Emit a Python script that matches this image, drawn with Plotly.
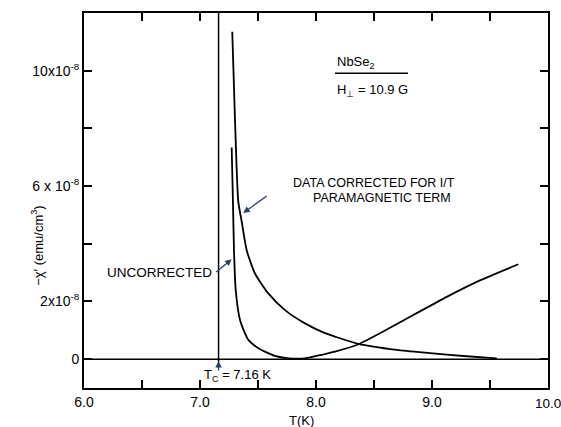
import plotly.graph_objects as go

# Temperature (K) and -chi' (in units of 1e-8 emu/cm^3)
T_uncorrected = [7.273, 7.284, 7.293, 7.308, 7.345, 7.416, 7.503, 7.647, 7.79, 7.905,
                 8.049, 8.164, 8.351, 8.552, 8.839, 9.127, 9.414, 9.744]
chi_uncorrected = [7.34, 5.47, 3.77, 2.39, 1.36, 0.67, 0.38, 0.11, 0.02, 0.03,
                   0.15, 0.26, 0.49, 0.90, 1.53, 2.16, 2.73, 3.29]

T_corrected = [7.278, 7.302, 7.330, 7.359, 7.403, 7.474, 7.589, 7.733, 7.905, 8.078,
               8.164, 8.365, 8.696, 8.983, 9.270, 9.558]
chi_corrected = [11.35, 8.26, 5.47, 4.78, 3.77, 2.97, 2.28, 1.70, 1.24, 0.90,
                 0.78, 0.53, 0.32, 0.21, 0.11, 0.03]

Tc = 7.16
x_tickvals = [6.0, 6.5, 7.0, 7.5, 8.0, 8.5, 9.0, 9.5, 10.0]
x_ticktext = ["6.0", "", "7.0", "", "8.0", "", "9.0", "", ""]
y_tickvals = [0, 2, 4, 6, 8, 10]
y_ticktext = ["0", "2x10<sup>-8</sup>", "", "6 x 10<sup>-8</sup>", "", "10x10<sup>-8</sup>"]

FONT = "Liberation Sans"
fig = go.Figure()
line = dict(color="black", width=1.8, shape="spline", smoothing=0.6)
fig.add_trace(go.Scatter(x=T_uncorrected, y=chi_uncorrected, mode="lines", line=line, showlegend=False))
fig.add_trace(go.Scatter(x=T_corrected, y=chi_corrected, mode="lines", line=line, showlegend=False))

# zero line and Tc line
fig.add_shape(type="line", x0=6, x1=10, y0=0, y1=0, line=dict(color="black", width=1.5))
fig.add_shape(type="line", x0=Tc, x1=Tc, y0=-0.1, y1=12, line=dict(color="black", width=1.5))
fig.add_shape(type="line", x0=8.164, x1=8.793, y0=9.91, y1=9.91, line=dict(color="black", width=1.5))

ann_font = dict(family=FONT, size=12.5, color="black")
f13 = dict(family=FONT, size=13, color="black")
anns = [
    dict(x=8.164, y=10.27, text="NbSe<sub>2</sub>", xanchor="left", showarrow=False, font=f13),
    dict(x=8.164, y=9.33, text="H<sub>⊥</sub> = 10.9 G", xanchor="left", showarrow=False, font=f13),
    dict(x=8.502, y=6.09, text="DATA CORRECTED FOR I/T", showarrow=False, font=ann_font),
    dict(x=8.566, y=5.60, text="PARAMAGNETIC TERM", showarrow=False, font=ann_font),
    dict(x=7.373, y=5.07, text="", ax=25, ay=-18, showarrow=True, arrowhead=2, arrowsize=1, arrowwidth=1.3),
    dict(x=6.654, y=3.0, text="UNCORRECTED", showarrow=False, font=dict(family=FONT, size=13.5, color="black")),
    dict(x=7.273, y=3.46, text="", ax=-17, ay=14, showarrow=True, arrowhead=2, arrowsize=1, arrowwidth=1.3),
    dict(x=7.319, y=-0.58, text="T<sub>C</sub> = 7.16 K", showarrow=False, font=f13),
    dict(x=Tc, y=-0.06, text="", ax=0, ay=11, showarrow=True, arrowhead=2, arrowsize=1, arrowwidth=1.3),
    dict(xref="paper", yref="paper", x=-0.123, y=0.379, text="−χ′ (emu/cm<sup>3</sup>)", textangle=-90,
         showarrow=False, font=f13),
    dict(xref="paper", yref="paper", x=0.468, y=-0.0875, yanchor="middle", text="T(K)", showarrow=False,
         font=f13),
    dict(x=10.0, xref="x", yref="paper", y=-0.041, yanchor="middle", text="10.0", showarrow=False,
         font=dict(family=FONT, size=13.5, color="black")),
]
for a in anns:
    fig.add_annotation(**a)

axis_common = dict(showline=True, linewidth=2, linecolor="black", mirror="ticks", ticks="inside",
                   ticklen=8, tickwidth=1.5, tickcolor="black", showgrid=False, zeroline=False,
                   tickfont=dict(family=FONT, size=14, color="black"))
fig.update_xaxes(range=[6, 10], tickmode="array", tickvals=x_tickvals, ticktext=x_ticktext, **axis_common)
fig.update_yaxes(range=[-1, 12], tickmode="array", tickvals=y_tickvals, ticktext=y_ticktext, **axis_common)

fig.update_layout(width=561, height=427, margin=dict(l=84, r=13, t=11, b=39),
                  paper_bgcolor="white", plot_bgcolor="white")
fig.write_html("out.html")
